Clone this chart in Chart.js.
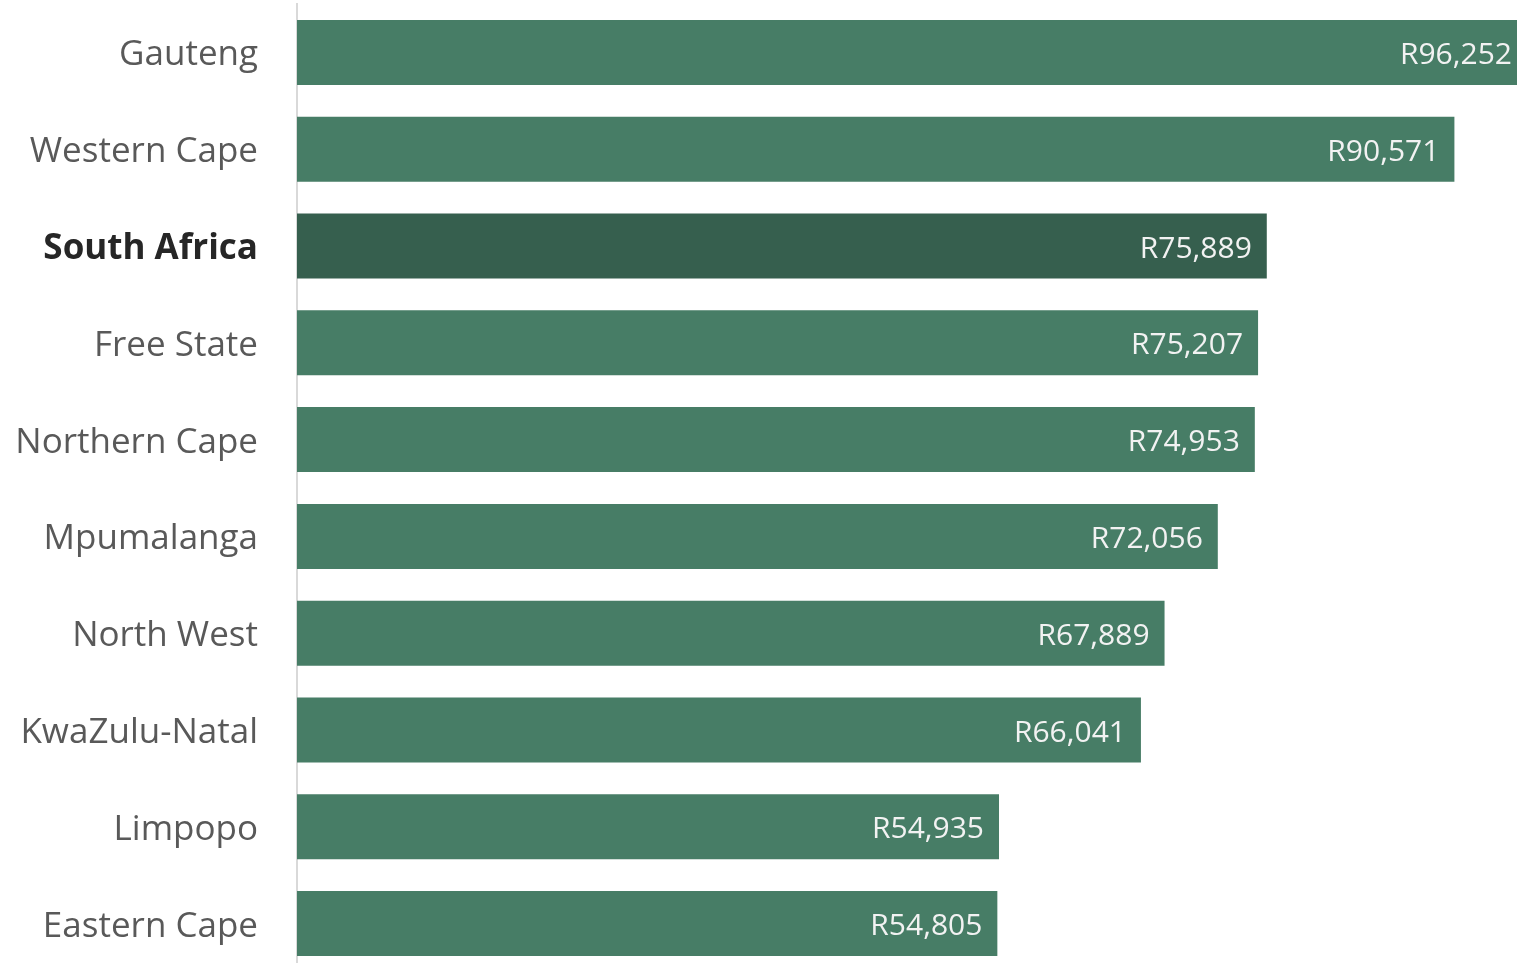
<!DOCTYPE html>
<html>
<head>
<meta charset="utf-8">
<script src="https://cdn.jsdelivr.net/npm/chart.js@4"></script>
<style>
  html, body { margin: 0; padding: 0; background: #fff; overflow: hidden; }
  #wrap { position: relative; width: 1527px; height: 972px; }
</style>
</head>
<body>
<div id="wrap"><canvas id="chart"></canvas></div>
<script>
const regions = ['Gauteng', 'Western Cape', 'South Africa', 'Free State', 'Northern Cape',
  'Mpumalanga', 'North West', 'KwaZulu-Natal', 'Limpopo', 'Eastern Cape'];
const income = [96252, 90571, 75889, 75207, 74953, 72056, 67889, 66041, 54935, 54805];
const highlight = 'South Africa';

const FONT = "'Open Sans', 'Noto Sans', sans-serif";

const barLabels = {
  id: 'barLabels',
  afterDatasetsDraw(chart) {
    const ctx = chart.ctx;
    const meta = chart.getDatasetMeta(0);
    ctx.save();
    ctx.font = '30px ' + FONT;
    ctx.fillStyle = '#f2f2f2';
    ctx.textAlign = 'right';
    ctx.textBaseline = 'middle';
    meta.data.forEach((bar, i) => {
      // keep the label inside the visible window when the bar runs off the edge
      const x = Math.min(bar.x - 15, window.innerWidth - 2);
      ctx.fillText('R' + income[i].toLocaleString('en-US'), x, bar.y + 3);
    });
    ctx.restore();
  }
};

new Chart(document.getElementById('chart'), {
  type: 'bar',
  data: {
    labels: regions,
    datasets: [{
      data: income,
      backgroundColor: regions.map(r => r === highlight ? '#365f4e' : '#477d66'),
      categoryPercentage: 1,
      barPercentage: 0.672
    }]
  },
  options: {
    indexAxis: 'y',
    responsive: true,
    maintainAspectRatio: false,
    animation: false,
    layout: { padding: { top: 4, left: 0, right: 0, bottom: 0 } },
    plugins: { legend: { display: false }, tooltip: { enabled: false } },
    scales: {
      x: {
        min: 0,
        max: Math.max(...income),
        display: false
      },
      y: {
        afterFit(scale) {
          scale.width = 297;
          scale.paddingTop = 0;
          scale.paddingBottom = 0;
        },
        grid: { display: false, drawTicks: false },
        border: { display: true, color: '#d9d9d9', width: 2 },
        ticks: {
          padding: 39,
          labelOffset: 3,
          color: ctx => regions[ctx.index] === highlight ? '#262626' : '#595959',
          font: ctx => ({
            family: FONT,
            size: 35,
            weight: regions[ctx.index] === highlight ? 'bold' : 'normal'
          })
        }
      }
    }
  },
  plugins: [barLabels]
});
</script>
</body>
</html>
